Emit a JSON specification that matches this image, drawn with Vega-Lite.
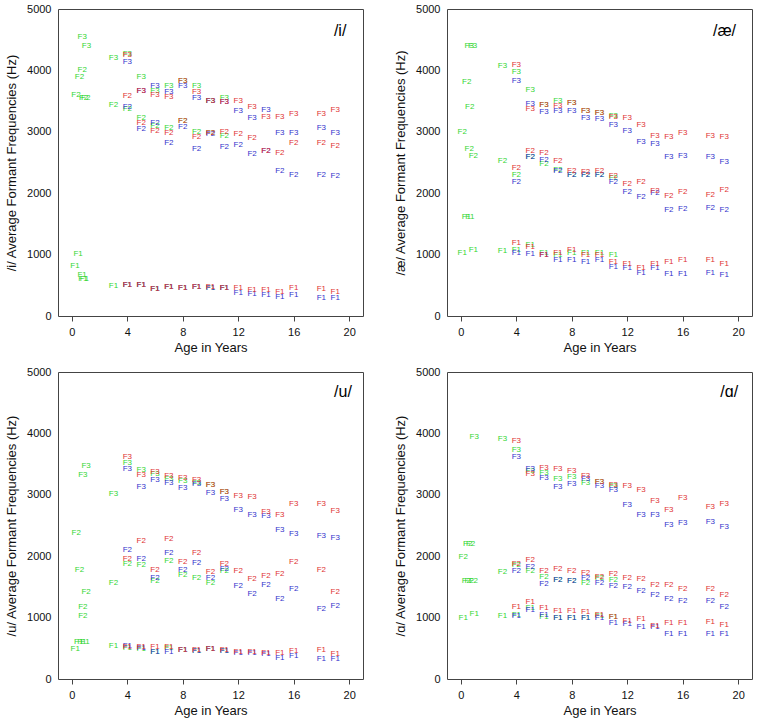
{
"$schema": "https://vega.github.io/schema/vega-lite/v6.json",
"padding": {"left": 5, "top": 2, "right": 5, "bottom": 5},
"config": {
 "view": {"stroke": "#444", "strokeWidth": 1},
 "axis": {"labelFont": "Liberation Sans", "titleFont": "Liberation Sans", "labelFontSize": 11, "titleFontSize": 13, "titleFontWeight": "normal", "labelColor": "#111", "titleColor": "#111", "grid": false, "domain": false, "tickColor": "#444", "format": "d"},
 "axisX": {"tickSize": 5, "labelPadding": 5, "titlePadding": 4},
 "axisY": {"ticks": false, "labelPadding": 7, "titlePadding": 8}
},
"datasets": {
"i": [
{"group":"both","formant":"F1","age":0.45,"hz":1006},{"group":"both","formant":"F1","age":0.22,"hz":810},{"group":"both","formant":"F1","age":0.74,"hz":665},{"group":"both","formant":"F1","age":0.8,"hz":600},{"group":"both","formant":"F1","age":0.9,"hz":600},{"group":"both","formant":"F1","age":3,"hz":487},{"group":"both","formant":"F1","age":4,"hz":500},{"group":"both","formant":"F1","age":5,"hz":500},{"group":"both","formant":"F1","age":6,"hz":440},{"group":"both","formant":"F1","age":7,"hz":476},{"group":"both","formant":"F1","age":8,"hz":455},{"group":"both","formant":"F1","age":9,"hz":470},{"group":"both","formant":"F1","age":10,"hz":460},{"group":"both","formant":"F1","age":11,"hz":455},
{"group":"both","formant":"F2","age":0.75,"hz":4005},{"group":"both","formant":"F2","age":0.55,"hz":3900},{"group":"both","formant":"F2","age":0.3,"hz":3600},{"group":"both","formant":"F2","age":0.85,"hz":3550},{"group":"both","formant":"F2","age":1.0,"hz":3550},{"group":"both","formant":"F2","age":3,"hz":3440},{"group":"both","formant":"F2","age":4,"hz":3370},{"group":"both","formant":"F2","age":5,"hz":3225},{"group":"both","formant":"F2","age":6,"hz":3100},{"group":"both","formant":"F2","age":7,"hz":3063},{"group":"both","formant":"F2","age":8,"hz":3170},{"group":"both","formant":"F2","age":9,"hz":2992},{"group":"both","formant":"F2","age":10,"hz":2976},{"group":"both","formant":"F2","age":11,"hz":2930},
{"group":"both","formant":"F3","age":0.75,"hz":4545},{"group":"both","formant":"F3","age":1.05,"hz":4400},{"group":"both","formant":"F3","age":3,"hz":4210},{"group":"both","formant":"F3","age":4,"hz":4270},{"group":"both","formant":"F3","age":5,"hz":3885},{"group":"both","formant":"F3","age":6,"hz":3670},{"group":"both","formant":"F3","age":7,"hz":3738},{"group":"both","formant":"F3","age":8,"hz":3820},{"group":"both","formant":"F3","age":9,"hz":3750},{"group":"both","formant":"F3","age":10,"hz":3500},{"group":"both","formant":"F3","age":11,"hz":3550},
{"group":"male","formant":"F1","age":4,"hz":500},{"group":"male","formant":"F1","age":5,"hz":500},{"group":"male","formant":"F1","age":6,"hz":435},{"group":"male","formant":"F1","age":7,"hz":470},{"group":"male","formant":"F1","age":8,"hz":450},{"group":"male","formant":"F1","age":9,"hz":470},{"group":"male","formant":"F1","age":10,"hz":455},{"group":"male","formant":"F1","age":11,"hz":450},{"group":"male","formant":"F1","age":12,"hz":379},{"group":"male","formant":"F1","age":13,"hz":357},{"group":"male","formant":"F1","age":14,"hz":341},{"group":"male","formant":"F1","age":15,"hz":314},{"group":"male","formant":"F1","age":16,"hz":341},{"group":"male","formant":"F1","age":18,"hz":297},{"group":"male","formant":"F1","age":19,"hz":297},
{"group":"male","formant":"F2","age":4,"hz":3410},{"group":"male","formant":"F2","age":5,"hz":3047},{"group":"male","formant":"F2","age":6,"hz":3138},{"group":"male","formant":"F2","age":7,"hz":2813},{"group":"male","formant":"F2","age":8,"hz":3084},{"group":"male","formant":"F2","age":9,"hz":2722},{"group":"male","formant":"F2","age":10,"hz":2960},{"group":"male","formant":"F2","age":11,"hz":2748},{"group":"male","formant":"F2","age":12,"hz":2792},{"group":"male","formant":"F2","age":13,"hz":2640},{"group":"male","formant":"F2","age":14,"hz":2695},{"group":"male","formant":"F2","age":15,"hz":2359},{"group":"male","formant":"F2","age":16,"hz":2289},{"group":"male","formant":"F2","age":18,"hz":2289},{"group":"male","formant":"F2","age":19,"hz":2273},
{"group":"male","formant":"F3","age":4,"hz":4130},{"group":"male","formant":"F3","age":5,"hz":3660},{"group":"male","formant":"F3","age":6,"hz":3738},{"group":"male","formant":"F3","age":7,"hz":3641},{"group":"male","formant":"F3","age":8,"hz":3750},{"group":"male","formant":"F3","age":9,"hz":3550},{"group":"male","formant":"F3","age":10,"hz":3495},{"group":"male","formant":"F3","age":11,"hz":3479},{"group":"male","formant":"F3","age":12,"hz":3344},{"group":"male","formant":"F3","age":13,"hz":3225},{"group":"male","formant":"F3","age":14,"hz":3355},{"group":"male","formant":"F3","age":15,"hz":2976},{"group":"male","formant":"F3","age":16,"hz":2976},{"group":"male","formant":"F3","age":18,"hz":3063},{"group":"male","formant":"F3","age":19,"hz":2976},
{"group":"female","formant":"F1","age":4,"hz":505},{"group":"female","formant":"F1","age":5,"hz":505},{"group":"female","formant":"F1","age":6,"hz":440},{"group":"female","formant":"F1","age":7,"hz":480},{"group":"female","formant":"F1","age":8,"hz":450},{"group":"female","formant":"F1","age":9,"hz":480},{"group":"female","formant":"F1","age":10,"hz":470},{"group":"female","formant":"F1","age":11,"hz":455},{"group":"female","formant":"F1","age":12,"hz":450},{"group":"female","formant":"F1","age":13,"hz":422},{"group":"female","formant":"F1","age":14,"hz":430},{"group":"female","formant":"F1","age":15,"hz":395},{"group":"female","formant":"F1","age":16,"hz":450},{"group":"female","formant":"F1","age":18,"hz":438},{"group":"female","formant":"F1","age":19,"hz":384},
{"group":"female","formant":"F2","age":4,"hz":3590},{"group":"female","formant":"F2","age":5,"hz":3145},{"group":"female","formant":"F2","age":6,"hz":3008},{"group":"female","formant":"F2","age":7,"hz":2976},{"group":"female","formant":"F2","age":8,"hz":3170},{"group":"female","formant":"F2","age":9,"hz":2911},{"group":"female","formant":"F2","age":10,"hz":2976},{"group":"female","formant":"F2","age":11,"hz":2990},{"group":"female","formant":"F2","age":12,"hz":2965},{"group":"female","formant":"F2","age":13,"hz":2900},{"group":"female","formant":"F2","age":14,"hz":2695},{"group":"female","formant":"F2","age":15,"hz":2651},{"group":"female","formant":"F2","age":16,"hz":2813},{"group":"female","formant":"F2","age":18,"hz":2813},{"group":"female","formant":"F2","age":19,"hz":2765},
{"group":"female","formant":"F3","age":4,"hz":4250},{"group":"female","formant":"F3","age":5,"hz":3660},{"group":"female","formant":"F3","age":6,"hz":3600},{"group":"female","formant":"F3","age":7,"hz":3560},{"group":"female","formant":"F3","age":8,"hz":3820},{"group":"female","formant":"F3","age":9,"hz":3641},{"group":"female","formant":"F3","age":10,"hz":3506},{"group":"female","formant":"F3","age":11,"hz":3479},{"group":"female","formant":"F3","age":12,"hz":3506},{"group":"female","formant":"F3","age":13,"hz":3398},{"group":"female","formant":"F3","age":14,"hz":3235},{"group":"female","formant":"F3","age":15,"hz":3247},{"group":"female","formant":"F3","age":16,"hz":3290},{"group":"female","formant":"F3","age":18,"hz":3290},{"group":"female","formant":"F3","age":19,"hz":3360}
],
"ae": [
{"group":"both","formant":"F1","age":0.4,"hz":1612},{"group":"both","formant":"F1","age":0.65,"hz":1612},{"group":"both","formant":"F1","age":0.1,"hz":1018},{"group":"both","formant":"F1","age":0.9,"hz":1083},{"group":"both","formant":"F1","age":3,"hz":1055},{"group":"both","formant":"F1","age":4,"hz":1071},{"group":"both","formant":"F1","age":5,"hz":1153},{"group":"both","formant":"F1","age":6,"hz":1028},{"group":"both","formant":"F1","age":7,"hz":1000},{"group":"both","formant":"F1","age":8,"hz":1028},{"group":"both","formant":"F1","age":9,"hz":1028},{"group":"both","formant":"F1","age":10,"hz":1020},{"group":"both","formant":"F1","age":11,"hz":990},
{"group":"both","formant":"F2","age":0.42,"hz":3804},{"group":"both","formant":"F2","age":0.64,"hz":3398},{"group":"both","formant":"F2","age":0.1,"hz":3003},{"group":"both","formant":"F2","age":0.6,"hz":2722},{"group":"both","formant":"F2","age":0.9,"hz":2602},{"group":"both","formant":"F2","age":3,"hz":2532},{"group":"both","formant":"F2","age":4,"hz":2289},{"group":"both","formant":"F2","age":5,"hz":2590},{"group":"both","formant":"F2","age":6,"hz":2479},{"group":"both","formant":"F2","age":7,"hz":2370},{"group":"both","formant":"F2","age":8,"hz":2300},{"group":"both","formant":"F2","age":9,"hz":2300},{"group":"both","formant":"F2","age":10,"hz":2300},{"group":"both","formant":"F2","age":11,"hz":2250},
{"group":"both","formant":"F3","age":0.6,"hz":4400},{"group":"both","formant":"F3","age":0.85,"hz":4400},{"group":"both","formant":"F3","age":3,"hz":4075},{"group":"both","formant":"F3","age":4,"hz":3966},{"group":"both","formant":"F3","age":5,"hz":3680},{"group":"both","formant":"F3","age":6,"hz":3430},{"group":"both","formant":"F3","age":7,"hz":3506},{"group":"both","formant":"F3","age":8,"hz":3463},{"group":"both","formant":"F3","age":9,"hz":3340},{"group":"both","formant":"F3","age":10,"hz":3300},{"group":"both","formant":"F3","age":11,"hz":3263},
{"group":"male","formant":"F1","age":4,"hz":1018},{"group":"male","formant":"F1","age":5,"hz":1006},{"group":"male","formant":"F1","age":6,"hz":986},{"group":"male","formant":"F1","age":7,"hz":920},{"group":"male","formant":"F1","age":8,"hz":909},{"group":"male","formant":"F1","age":9,"hz":881},{"group":"male","formant":"F1","age":10,"hz":909},{"group":"male","formant":"F1","age":11,"hz":790},{"group":"male","formant":"F1","age":12,"hz":774},{"group":"male","formant":"F1","age":13,"hz":703},{"group":"male","formant":"F1","age":14,"hz":774},{"group":"male","formant":"F1","age":15,"hz":682},{"group":"male","formant":"F1","age":16,"hz":682},{"group":"male","formant":"F1","age":18,"hz":693},{"group":"male","formant":"F1","age":19,"hz":666},
{"group":"male","formant":"F2","age":4,"hz":2180},{"group":"male","formant":"F2","age":5,"hz":2586},{"group":"male","formant":"F2","age":6,"hz":2544},{"group":"male","formant":"F2","age":7,"hz":2359},{"group":"male","formant":"F2","age":8,"hz":2289},{"group":"male","formant":"F2","age":9,"hz":2289},{"group":"male","formant":"F2","age":10,"hz":2289},{"group":"male","formant":"F2","age":11,"hz":2180},{"group":"male","formant":"F2","age":12,"hz":2018},{"group":"male","formant":"F2","age":13,"hz":1937},{"group":"male","formant":"F2","age":14,"hz":2000},{"group":"male","formant":"F2","age":15,"hz":1732},{"group":"male","formant":"F2","age":16,"hz":1748},{"group":"male","formant":"F2","age":18,"hz":1764},{"group":"male","formant":"F2","age":19,"hz":1732},
{"group":"male","formant":"F3","age":4,"hz":3831},{"group":"male","formant":"F3","age":5,"hz":3453},{"group":"male","formant":"F3","age":6,"hz":3323},{"group":"male","formant":"F3","age":7,"hz":3344},{"group":"male","formant":"F3","age":8,"hz":3333},{"group":"male","formant":"F3","age":9,"hz":3219},{"group":"male","formant":"F3","age":10,"hz":3214},{"group":"male","formant":"F3","age":11,"hz":3117},{"group":"male","formant":"F3","age":12,"hz":3008},{"group":"male","formant":"F3","age":13,"hz":2830},{"group":"male","formant":"F3","age":14,"hz":2803},{"group":"male","formant":"F3","age":15,"hz":2586},{"group":"male","formant":"F3","age":16,"hz":2602},{"group":"male","formant":"F3","age":18,"hz":2597},{"group":"male","formant":"F3","age":19,"hz":2516},
{"group":"female","formant":"F1","age":4,"hz":1190},{"group":"female","formant":"F1","age":5,"hz":1125},{"group":"female","formant":"F1","age":6,"hz":990},{"group":"female","formant":"F1","age":7,"hz":1018},{"group":"female","formant":"F1","age":8,"hz":1071},{"group":"female","formant":"F1","age":9,"hz":990},{"group":"female","formant":"F1","age":10,"hz":990},{"group":"female","formant":"F1","age":11,"hz":881},{"group":"female","formant":"F1","age":12,"hz":844},{"group":"female","formant":"F1","age":13,"hz":774},{"group":"female","formant":"F1","age":14,"hz":844},{"group":"female","formant":"F1","age":15,"hz":881},{"group":"female","formant":"F1","age":16,"hz":909},{"group":"female","formant":"F1","age":18,"hz":920},{"group":"female","formant":"F1","age":19,"hz":844},
{"group":"female","formant":"F2","age":4,"hz":2414},{"group":"female","formant":"F2","age":5,"hz":2695},{"group":"female","formant":"F2","age":6,"hz":2662},{"group":"female","formant":"F2","age":7,"hz":2521},{"group":"female","formant":"F2","age":8,"hz":2360},{"group":"female","formant":"F2","age":9,"hz":2340},{"group":"female","formant":"F2","age":10,"hz":2354},{"group":"female","formant":"F2","age":11,"hz":2273},{"group":"female","formant":"F2","age":12,"hz":2154},{"group":"female","formant":"F2","age":13,"hz":2180},{"group":"female","formant":"F2","age":14,"hz":2030},{"group":"female","formant":"F2","age":15,"hz":1948},{"group":"female","formant":"F2","age":16,"hz":2018},{"group":"female","formant":"F2","age":18,"hz":1964},{"group":"female","formant":"F2","age":19,"hz":2057},
{"group":"female","formant":"F3","age":4,"hz":4091},{"group":"female","formant":"F3","age":5,"hz":3365},{"group":"female","formant":"F3","age":6,"hz":3442},{"group":"female","formant":"F3","age":7,"hz":3425},{"group":"female","formant":"F3","age":8,"hz":3463},{"group":"female","formant":"F3","age":9,"hz":3344},{"group":"female","formant":"F3","age":10,"hz":3300},{"group":"female","formant":"F3","age":11,"hz":3245},{"group":"female","formant":"F3","age":12,"hz":3225},{"group":"female","formant":"F3","age":13,"hz":3117},{"group":"female","formant":"F3","age":14,"hz":2938},{"group":"female","formant":"F3","age":15,"hz":2922},{"group":"female","formant":"F3","age":16,"hz":2976},{"group":"female","formant":"F3","age":18,"hz":2938},{"group":"female","formant":"F3","age":19,"hz":2922}
],
"u": [
{"group":"both","formant":"F1","age":0.24,"hz":483},{"group":"both","formant":"F1","age":0.5,"hz":600},{"group":"both","formant":"F1","age":0.72,"hz":610},{"group":"both","formant":"F1","age":0.95,"hz":600},{"group":"both","formant":"F1","age":3,"hz":537},{"group":"both","formant":"F1","age":4,"hz":500},{"group":"both","formant":"F1","age":5,"hz":490},{"group":"both","formant":"F1","age":6,"hz":444},{"group":"both","formant":"F1","age":7,"hz":500},{"group":"both","formant":"F1","age":8,"hz":472},{"group":"both","formant":"F1","age":9,"hz":461},{"group":"both","formant":"F1","age":10,"hz":483},{"group":"both","formant":"F1","age":11,"hz":461},
{"group":"both","formant":"F2","age":0.31,"hz":2385},{"group":"both","formant":"F2","age":0.55,"hz":1783},{"group":"both","formant":"F2","age":1.03,"hz":1409},{"group":"both","formant":"F2","age":0.79,"hz":1176},{"group":"both","formant":"F2","age":0.79,"hz":1030},{"group":"both","formant":"F2","age":3,"hz":1566},{"group":"both","formant":"F2","age":4,"hz":1865},{"group":"both","formant":"F2","age":5,"hz":1854},{"group":"both","formant":"F2","age":6,"hz":1594},{"group":"both","formant":"F2","age":7,"hz":1924},{"group":"both","formant":"F2","age":8,"hz":1691},{"group":"both","formant":"F2","age":9,"hz":1637},{"group":"both","formant":"F2","age":10,"hz":1566},{"group":"both","formant":"F2","age":11,"hz":1760},
{"group":"both","formant":"F3","age":0.79,"hz":3317},{"group":"both","formant":"F3","age":1.03,"hz":3463},{"group":"both","formant":"F3","age":3,"hz":3008},{"group":"both","formant":"F3","age":4,"hz":3523},{"group":"both","formant":"F3","age":5,"hz":3409},{"group":"both","formant":"F3","age":6,"hz":3340},{"group":"both","formant":"F3","age":7,"hz":3250},{"group":"both","formant":"F3","age":8,"hz":3230},{"group":"both","formant":"F3","age":9,"hz":3200},{"group":"both","formant":"F3","age":10,"hz":3165},{"group":"both","formant":"F3","age":11,"hz":3046},
{"group":"male","formant":"F1","age":4,"hz":540},{"group":"male","formant":"F1","age":5,"hz":500},{"group":"male","formant":"F1","age":6,"hz":444},{"group":"male","formant":"F1","age":7,"hz":444},{"group":"male","formant":"F1","age":8,"hz":472},{"group":"male","formant":"F1","age":9,"hz":461},{"group":"male","formant":"F1","age":10,"hz":483},{"group":"male","formant":"F1","age":11,"hz":461},{"group":"male","formant":"F1","age":12,"hz":420},{"group":"male","formant":"F1","age":13,"hz":428},{"group":"male","formant":"F1","age":14,"hz":401},{"group":"male","formant":"F1","age":15,"hz":336},{"group":"male","formant":"F1","age":16,"hz":374},{"group":"male","formant":"F1","age":18,"hz":325},{"group":"male","formant":"F1","age":19,"hz":325},
{"group":"male","formant":"F2","age":4,"hz":2098},{"group":"male","formant":"F2","age":5,"hz":1951},{"group":"male","formant":"F2","age":6,"hz":1653},{"group":"male","formant":"F2","age":7,"hz":2054},{"group":"male","formant":"F2","age":8,"hz":1783},{"group":"male","formant":"F2","age":9,"hz":1892},{"group":"male","formant":"F2","age":10,"hz":1653},{"group":"male","formant":"F2","age":11,"hz":1789},{"group":"male","formant":"F2","age":12,"hz":1512},{"group":"male","formant":"F2","age":13,"hz":1377},{"group":"male","formant":"F2","age":14,"hz":1528},{"group":"male","formant":"F2","age":15,"hz":1301},{"group":"male","formant":"F2","age":16,"hz":1463},{"group":"male","formant":"F2","age":18,"hz":1138},{"group":"male","formant":"F2","age":19,"hz":1192},
{"group":"male","formant":"F3","age":4,"hz":3420},{"group":"male","formant":"F3","age":5,"hz":3127},{"group":"male","formant":"F3","age":6,"hz":3236},{"group":"male","formant":"F3","age":7,"hz":3192},{"group":"male","formant":"F3","age":8,"hz":3111},{"group":"male","formant":"F3","age":9,"hz":3182},{"group":"male","formant":"F3","age":10,"hz":3035},{"group":"male","formant":"F3","age":11,"hz":2938},{"group":"male","formant":"F3","age":12,"hz":2759},{"group":"male","formant":"F3","age":13,"hz":2667},{"group":"male","formant":"F3","age":14,"hz":2650},{"group":"male","formant":"F3","age":15,"hz":2423},{"group":"male","formant":"F3","age":16,"hz":2358},{"group":"male","formant":"F3","age":18,"hz":2325},{"group":"male","formant":"F3","age":19,"hz":2304},
{"group":"female","formant":"F1","age":4,"hz":520},{"group":"female","formant":"F1","age":5,"hz":516},{"group":"female","formant":"F1","age":6,"hz":516},{"group":"female","formant":"F1","age":7,"hz":526},{"group":"female","formant":"F1","age":8,"hz":480},{"group":"female","formant":"F1","age":9,"hz":470},{"group":"female","formant":"F1","age":10,"hz":490},{"group":"female","formant":"F1","age":11,"hz":470},{"group":"female","formant":"F1","age":12,"hz":440},{"group":"female","formant":"F1","age":13,"hz":440},{"group":"female","formant":"F1","age":14,"hz":420},{"group":"female","formant":"F1","age":15,"hz":428},{"group":"female","formant":"F1","age":16,"hz":461},{"group":"female","formant":"F1","age":18,"hz":472},{"group":"female","formant":"F1","age":19,"hz":407},
{"group":"female","formant":"F2","age":4,"hz":1951},{"group":"female","formant":"F2","age":5,"hz":2244},{"group":"female","formant":"F2","age":6,"hz":1783},{"group":"female","formant":"F2","age":7,"hz":2276},{"group":"female","formant":"F2","age":8,"hz":1908},{"group":"female","formant":"F2","age":9,"hz":2060},{"group":"female","formant":"F2","age":10,"hz":1745},{"group":"female","formant":"F2","age":11,"hz":1881},{"group":"female","formant":"F2","age":12,"hz":1755},{"group":"female","formant":"F2","age":13,"hz":1626},{"group":"female","formant":"F2","age":14,"hz":1680},{"group":"female","formant":"F2","age":15,"hz":1718},{"group":"female","formant":"F2","age":16,"hz":1908},{"group":"female","formant":"F2","age":18,"hz":1770},{"group":"female","formant":"F2","age":19,"hz":1420},
{"group":"female","formant":"F3","age":4,"hz":3615},{"group":"female","formant":"F3","age":5,"hz":3317},{"group":"female","formant":"F3","age":6,"hz":3371},{"group":"female","formant":"F3","age":7,"hz":3301},{"group":"female","formant":"F3","age":8,"hz":3274},{"group":"female","formant":"F3","age":9,"hz":3247},{"group":"female","formant":"F3","age":10,"hz":3165},{"group":"female","formant":"F3","age":11,"hz":3046},{"group":"female","formant":"F3","age":12,"hz":2981},{"group":"female","formant":"F3","age":13,"hz":2965},{"group":"female","formant":"F3","age":14,"hz":2721},{"group":"female","formant":"F3","age":15,"hz":2667},{"group":"female","formant":"F3","age":16,"hz":2846},{"group":"female","formant":"F3","age":18,"hz":2856},{"group":"female","formant":"F3","age":19,"hz":2737}
],
"a": [
{"group":"both","formant":"F1","age":0.17,"hz":997},{"group":"both","formant":"F1","age":0.96,"hz":1057},{"group":"both","formant":"F1","age":3,"hz":1030},{"group":"both","formant":"F1","age":4,"hz":1040},{"group":"both","formant":"F1","age":5,"hz":1149},{"group":"both","formant":"F1","age":6,"hz":1013},{"group":"both","formant":"F1","age":7,"hz":986},{"group":"both","formant":"F1","age":8,"hz":990},{"group":"both","formant":"F1","age":9,"hz":990},{"group":"both","formant":"F1","age":10,"hz":1030},{"group":"both","formant":"F1","age":11,"hz":1002},
{"group":"both","formant":"F2","age":0.5,"hz":2206},{"group":"both","formant":"F2","age":0.7,"hz":2206},{"group":"both","formant":"F2","age":0.17,"hz":1989},{"group":"both","formant":"F2","age":0.4,"hz":1593},{"group":"both","formant":"F2","age":0.6,"hz":1593},{"group":"both","formant":"F2","age":0.9,"hz":1593},{"group":"both","formant":"F2","age":3,"hz":1745},{"group":"both","formant":"F2","age":4,"hz":1860},{"group":"both","formant":"F2","age":5,"hz":1762},{"group":"both","formant":"F2","age":6,"hz":1664},{"group":"both","formant":"F2","age":7,"hz":1620},{"group":"both","formant":"F2","age":8,"hz":1600},{"group":"both","formant":"F2","age":9,"hz":1566},{"group":"both","formant":"F2","age":10,"hz":1650},{"group":"both","formant":"F2","age":11,"hz":1610},
{"group":"both","formant":"F3","age":0.96,"hz":3940},{"group":"both","formant":"F3","age":3,"hz":3902},{"group":"both","formant":"F3","age":4,"hz":3735},{"group":"both","formant":"F3","age":5,"hz":3380},{"group":"both","formant":"F3","age":6,"hz":3360},{"group":"both","formant":"F3","age":7,"hz":3263},{"group":"both","formant":"F3","age":8,"hz":3285},{"group":"both","formant":"F3","age":9,"hz":3200},{"group":"both","formant":"F3","age":10,"hz":3209},{"group":"both","formant":"F3","age":11,"hz":3140},
{"group":"male","formant":"F1","age":4,"hz":1030},{"group":"male","formant":"F1","age":5,"hz":1120},{"group":"male","formant":"F1","age":6,"hz":1050},{"group":"male","formant":"F1","age":7,"hz":986},{"group":"male","formant":"F1","age":8,"hz":986},{"group":"male","formant":"F1","age":9,"hz":986},{"group":"male","formant":"F1","age":10,"hz":986},{"group":"male","formant":"F1","age":11,"hz":916},{"group":"male","formant":"F1","age":12,"hz":900},{"group":"male","formant":"F1","age":13,"hz":851},{"group":"male","formant":"F1","age":14,"hz":851},{"group":"male","formant":"F1","age":15,"hz":726},{"group":"male","formant":"F1","age":16,"hz":732},{"group":"male","formant":"F1","age":18,"hz":732},{"group":"male","formant":"F1","age":19,"hz":732},
{"group":"male","formant":"F2","age":4,"hz":1760},{"group":"male","formant":"F2","age":5,"hz":1827},{"group":"male","formant":"F2","age":6,"hz":1545},{"group":"male","formant":"F2","age":7,"hz":1610},{"group":"male","formant":"F2","age":8,"hz":1600},{"group":"male","formant":"F2","age":9,"hz":1653},{"group":"male","formant":"F2","age":10,"hz":1566},{"group":"male","formant":"F2","age":11,"hz":1517},{"group":"male","formant":"F2","age":12,"hz":1501},{"group":"male","formant":"F2","age":13,"hz":1436},{"group":"male","formant":"F2","age":14,"hz":1366},{"group":"male","formant":"F2","age":15,"hz":1301},{"group":"male","formant":"F2","age":16,"hz":1274},{"group":"male","formant":"F2","age":18,"hz":1274},{"group":"male","formant":"F2","age":19,"hz":1176},
{"group":"male","formant":"F3","age":4,"hz":3615},{"group":"male","formant":"F3","age":5,"hz":3415},{"group":"male","formant":"F3","age":6,"hz":3279},{"group":"male","formant":"F3","age":7,"hz":3127},{"group":"male","formant":"F3","age":8,"hz":3182},{"group":"male","formant":"F3","age":9,"hz":3260},{"group":"male","formant":"F3","age":10,"hz":3138},{"group":"male","formant":"F3","age":11,"hz":3073},{"group":"male","formant":"F3","age":12,"hz":2829},{"group":"male","formant":"F3","age":13,"hz":2667},{"group":"male","formant":"F3","age":14,"hz":2678},{"group":"male","formant":"F3","age":15,"hz":2504},{"group":"male","formant":"F3","age":16,"hz":2548},{"group":"male","formant":"F3","age":18,"hz":2558},{"group":"male","formant":"F3","age":19,"hz":2477},
{"group":"female","formant":"F1","age":4,"hz":1176},{"group":"female","formant":"F1","age":5,"hz":1247},{"group":"female","formant":"F1","age":6,"hz":1160},{"group":"female","formant":"F1","age":7,"hz":1111},{"group":"female","formant":"F1","age":8,"hz":1111},{"group":"female","formant":"F1","age":9,"hz":1095},{"group":"female","formant":"F1","age":10,"hz":1040},{"group":"female","formant":"F1","age":11,"hz":1002},{"group":"female","formant":"F1","age":12,"hz":948},{"group":"female","formant":"F1","age":13,"hz":970},{"group":"female","formant":"F1","age":14,"hz":860},{"group":"female","formant":"F1","age":15,"hz":905},{"group":"female","formant":"F1","age":16,"hz":905},{"group":"female","formant":"F1","age":18,"hz":932},{"group":"female","formant":"F1","age":19,"hz":878},
{"group":"female","formant":"F2","age":4,"hz":1881},{"group":"female","formant":"F2","age":5,"hz":1946},{"group":"female","formant":"F2","age":6,"hz":1760},{"group":"female","formant":"F2","age":7,"hz":1789},{"group":"female","formant":"F2","age":8,"hz":1760},{"group":"female","formant":"F2","age":9,"hz":1734},{"group":"female","formant":"F2","age":10,"hz":1664},{"group":"female","formant":"F2","age":11,"hz":1707},{"group":"female","formant":"F2","age":12,"hz":1653},{"group":"female","formant":"F2","age":13,"hz":1626},{"group":"female","formant":"F2","age":14,"hz":1539},{"group":"female","formant":"F2","age":15,"hz":1528},{"group":"female","formant":"F2","age":16,"hz":1463},{"group":"female","formant":"F2","age":18,"hz":1458},{"group":"female","formant":"F2","age":19,"hz":1366},
{"group":"female","formant":"F3","age":4,"hz":3870},{"group":"female","formant":"F3","age":5,"hz":3344},{"group":"female","formant":"F3","age":6,"hz":3442},{"group":"female","formant":"F3","age":7,"hz":3415},{"group":"female","formant":"F3","age":8,"hz":3382},{"group":"female","formant":"F3","age":9,"hz":3300},{"group":"female","formant":"F3","age":10,"hz":3209},{"group":"female","formant":"F3","age":11,"hz":3155},{"group":"female","formant":"F3","age":12,"hz":3138},{"group":"female","formant":"F3","age":13,"hz":3073},{"group":"female","formant":"F3","age":14,"hz":2900},{"group":"female","formant":"F3","age":15,"hz":2748},{"group":"female","formant":"F3","age":16,"hz":2948},{"group":"female","formant":"F3","age":18,"hz":2802},{"group":"female","formant":"F3","age":19,"hz":2856}
]
},
"columns": 2,
"spacing": {"row": 10, "column": 30},
"concat": [
{"width": 305, "height": 307, "layer": [
 {"data": {"name": "i"}, "mark": {"type": "text", "fontSize": 8, "font": "Liberation Sans"},
  "encoding": {
   "x": {"field": "age", "type": "quantitative", "scale": {"domain": [-1, 21], "nice": false, "zero": false}, "axis": {"values": [0,2,4,6,8,10,12,14,16,18,20], "title": "Age in Years"}},
   "y": {"field": "hz", "type": "quantitative", "scale": {"domain": [0, 5000], "nice": false}, "axis": {"values": [0,1000,2000,3000,4000,5000], "title": "/i/ Average Formant Frequencies (Hz)"}},
   "color": {"field": "group", "type": "nominal", "scale": {"domain": ["both","male","female"], "range": ["#33d633","#3333cc","#e03333"]}, "legend": null},
   "text": {"field": "formant", "type": "nominal"}}},
 {"data": {"values": [{"label": "/i/"}]}, "mark": {"type": "text", "fontSize": 16, "align": "right", "baseline": "alphabetic", "font": "Liberation Sans", "color": "#000"},
  "encoding": {"x": {"datum": 19.8, "type": "quantitative"}, "y": {"datum": 4560, "type": "quantitative"}, "text": {"field": "label"}}}
]},
{"width": 305, "height": 307, "layer": [
 {"data": {"name": "ae"}, "mark": {"type": "text", "fontSize": 8, "font": "Liberation Sans"},
  "encoding": {
   "x": {"field": "age", "type": "quantitative", "scale": {"domain": [-1, 21], "nice": false, "zero": false}, "axis": {"values": [0,2,4,6,8,10,12,14,16,18,20], "title": "Age in Years"}},
   "y": {"field": "hz", "type": "quantitative", "scale": {"domain": [0, 5000], "nice": false}, "axis": {"values": [0,1000,2000,3000,4000,5000], "title": "/æ/ Average Formant Frequencies (Hz)"}},
   "color": {"field": "group", "type": "nominal", "scale": {"domain": ["both","male","female"], "range": ["#33d633","#3333cc","#e03333"]}, "legend": null},
   "text": {"field": "formant", "type": "nominal"}}},
 {"data": {"values": [{"label": "/æ/"}]}, "mark": {"type": "text", "fontSize": 16, "align": "right", "baseline": "alphabetic", "font": "Liberation Sans", "color": "#000"},
  "encoding": {"x": {"datum": 19.85, "type": "quantitative"}, "y": {"datum": 4560, "type": "quantitative"}, "text": {"field": "label"}}}
]},
{"width": 305, "height": 307, "layer": [
 {"data": {"name": "u"}, "mark": {"type": "text", "fontSize": 8, "font": "Liberation Sans"},
  "encoding": {
   "x": {"field": "age", "type": "quantitative", "scale": {"domain": [-1, 21], "nice": false, "zero": false}, "axis": {"values": [0,2,4,6,8,10,12,14,16,18,20], "title": "Age in Years"}},
   "y": {"field": "hz", "type": "quantitative", "scale": {"domain": [0, 5000], "nice": false}, "axis": {"values": [0,1000,2000,3000,4000,5000], "title": "/u/ Average Formant Frequencies (Hz)"}},
   "color": {"field": "group", "type": "nominal", "scale": {"domain": ["both","male","female"], "range": ["#33d633","#3333cc","#e03333"]}, "legend": null},
   "text": {"field": "formant", "type": "nominal"}}},
 {"data": {"values": [{"label": "/u/"}]}, "mark": {"type": "text", "fontSize": 16, "align": "right", "baseline": "alphabetic", "font": "Liberation Sans", "color": "#000"},
  "encoding": {"x": {"datum": 20.2, "type": "quantitative"}, "y": {"datum": 4600, "type": "quantitative"}, "text": {"field": "label"}}}
]},
{"width": 305, "height": 307, "layer": [
 {"data": {"name": "a"}, "mark": {"type": "text", "fontSize": 8, "font": "Liberation Sans"},
  "encoding": {
   "x": {"field": "age", "type": "quantitative", "scale": {"domain": [-1, 21], "nice": false, "zero": false}, "axis": {"values": [0,2,4,6,8,10,12,14,16,18,20], "title": "Age in Years"}},
   "y": {"field": "hz", "type": "quantitative", "scale": {"domain": [0, 5000], "nice": false}, "axis": {"values": [0,1000,2000,3000,4000,5000], "title": "/ɑ/ Average Formant Frequencies (Hz)"}},
   "color": {"field": "group", "type": "nominal", "scale": {"domain": ["both","male","female"], "range": ["#33d633","#3333cc","#e03333"]}, "legend": null},
   "text": {"field": "formant", "type": "nominal"}}},
 {"data": {"values": [{"label": "/ɑ/"}]}, "mark": {"type": "text", "fontSize": 16, "align": "right", "baseline": "alphabetic", "font": "Liberation Sans", "color": "#000"},
  "encoding": {"x": {"datum": 20.0, "type": "quantitative"}, "y": {"datum": 4600, "type": "quantitative"}, "text": {"field": "label"}}}
]}
]
}
